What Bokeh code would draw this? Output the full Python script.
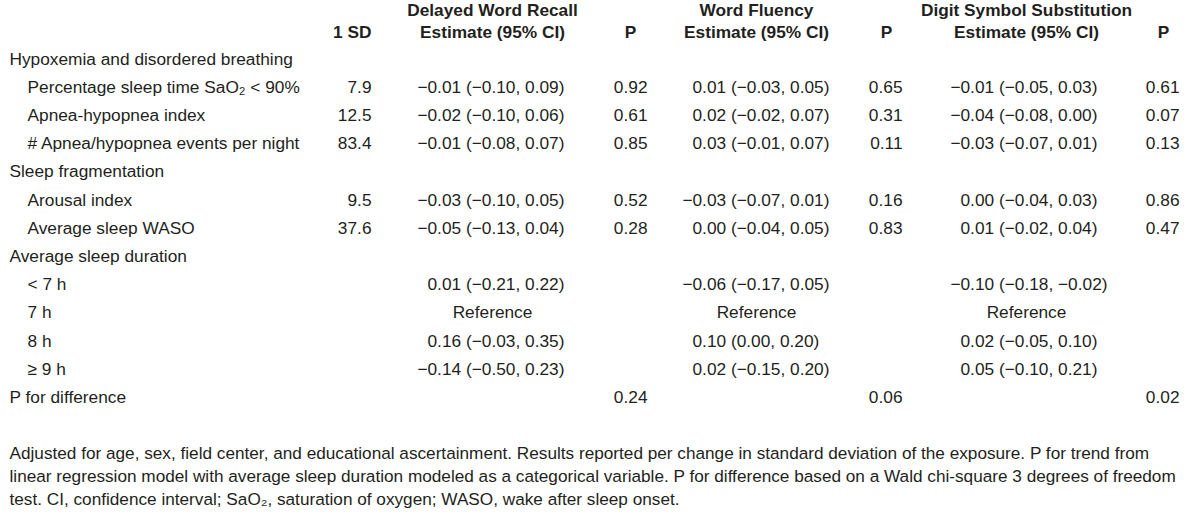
from bokeh.plotting import figure
from bokeh.models import Range1d, ColumnDataSource
from bokeh.core.properties import value
from bokeh.embed import file_html
from bokeh.resources import INLINE

# ---------------- data ----------------
section_headers = ["Hypoxemia and disordered breathing", "Sleep fragmentation",
                   "Average sleep duration", "P for difference"]
row_labels = [
    "Hypoxemia and disordered breathing",
    "Percentage sleep time SaO\u2082 < 90%",
    "Apnea-hypopnea index",
    "# Apnea/hypopnea events per night",
    "Sleep fragmentation",
    "Arousal index",
    "Average sleep WASO",
    "Average sleep duration",
    "< 7 h",
    "7 h",
    "8 h",
    "\u2265 9 h",
    "P for difference",
]
sd_values = ["", "7.9", "12.5", "83.4", "", "9.5", "37.6", "", "", "", "", "", ""]
recall_est = ["", "\u22120.01 (\u22120.10, 0.09)", "\u22120.02 (\u22120.10, 0.06)",
              "\u22120.01 (\u22120.08, 0.07)", "", "\u22120.03 (\u22120.10, 0.05)",
              "\u22120.05 (\u22120.13, 0.04)", "", "0.01 (\u22120.21, 0.22)", "Reference",
              "0.16 (\u22120.03, 0.35)", "\u22120.14 (\u22120.50, 0.23)", ""]
recall_p = ["", "0.92", "0.61", "0.85", "", "0.52", "0.28", "", "", "", "", "", "0.24"]
fluency_est = ["", "0.01 (\u22120.03, 0.05)", "0.02 (\u22120.02, 0.07)",
               "0.03 (\u22120.01, 0.07)", "", "\u22120.03 (\u22120.07, 0.01)",
               "0.00 (\u22120.04, 0.05)", "", "\u22120.06 (\u22120.17, 0.05)", "Reference",
               "0.10 (0.00, 0.20)", "0.02 (\u22120.15, 0.20)", ""]
fluency_p = ["", "0.65", "0.31", "0.11", "", "0.16", "0.83", "", "", "", "", "", "0.06"]
digit_est = ["", "\u22120.01 (\u22120.05, 0.03)", "\u22120.04 (\u22120.08, 0.00)",
             "\u22120.03 (\u22120.07, 0.01)", "", "0.00 (\u22120.04, 0.03)",
             "0.01 (\u22120.02, 0.04)", "", "\u22120.10 (\u22120.18, \u22120.02)", "Reference",
             "0.02 (\u22120.05, 0.10)", "0.05 (\u22120.10, 0.21)", ""]
digit_p = ["", "0.61", "0.07", "0.13", "", "0.86", "0.47", "", "", "", "", "", "0.02"]

header_sd = "1 SD"
header_groups = ["Delayed Word Recall", "Word Fluency", "Digit Symbol Substitution"]
header_est = "Estimate (95% CI)"
header_p = "P"

footnote_lines = [
    "Adjusted for age, sex, field center, and educational ascertainment. Results reported per change in standard deviation of the exposure. P for trend from",
    "linear regression model with average sleep duration modeled as a categorical variable. P for difference based on a Wald chi-square 3 degrees of freedom",
    "test. CI, confidence interval; SaO\u2082, saturation of oxygen; WASO, wake after sleep onset.",
]

# ---------------- layout ----------------
W, H = 1184, 516
OX, OY = 8, 8  # page margin offset (reference coords -> plot coords)
FONT = "Liberation Sans"
FS = "17.3px"
COLOR = "#231f20"

p = figure(width=W, height=H, output_backend="svg", toolbar_location=None,
           x_range=Range1d(0, W), y_range=Range1d(H, 0), min_border=0)
p.axis.visible = False
p.grid.visible = False
p.outline_line_color = None
p.background_fill_color = "white"
p.border_fill_color = "white"


def X(x):
    return x - OX


def Y(y):
    return y - OY


row_y0, row_pitch = 66, 28.2
row_ys = [Y(row_y0 + i * row_pitch) for i in range(len(row_labels))]


def put(xs, ys, texts, align="left", bold=False, size=FS):
    src = ColumnDataSource(dict(x=xs, y=ys, t=texts))
    p.text(x="x", y="y", text="t", source=src, text_align=align,
           text_baseline="middle", text_font=value(FONT), text_font_size=size,
           text_color=COLOR, text_font_style="bold" if bold else "normal")


# headers
hy1, hy2 = Y(17), Y(39)
put([X(379)], [hy2], [header_sd], align="right", bold=True)
group_centers = [500, 764, 1034]
put([X(c) for c in group_centers], [hy1] * 3, header_groups, align="center", bold=True)
put([X(c) for c in group_centers], [hy2] * 3, [header_est] * 3, align="center", bold=True)
p_centers = [638, 894, 1171]
put([X(c) for c in p_centers], [hy2] * 3, [header_p] * 3, align="center", bold=True)

# row labels
lx, ly, lt = [], [], []
for lab, y in zip(row_labels, row_ys):
    lx.append(X(17) if lab in section_headers else X(35))
    ly.append(y)
    lt.append(lab)
put(lx, ly, lt)

# 1 SD column
put([X(379)] * len(row_ys), row_ys, sd_values, align="right")

# estimate columns: decimal aligned (minus sign hangs left), "Reference" centered
digit_x = [435, 700, 968]
for est, dx, cx in zip([recall_est, fluency_est, digit_est], digit_x, group_centers):
    mx, my, mt = [], [], []
    bx, by, bt = [], [], []
    rx, ry, rt = [], [], []
    for s, y in zip(est, row_ys):
        if not s:
            continue
        if s == "Reference":
            rx.append(X(cx)); ry.append(y); rt.append(s)
        elif s.startswith("\u2212"):
            mx.append(X(dx)); my.append(y); mt.append("\u2212")
            bx.append(X(dx)); by.append(y); bt.append(s[1:])
        else:
            bx.append(X(dx)); by.append(y); bt.append(s)
    put(mx, my, mt, align="right")
    put(bx, by, bt, align="left")
    put(rx, ry, rt, align="center")

# P columns
p_right = [655, 910, 1187]
for pv, pr in zip([recall_p, fluency_p, digit_p], p_right):
    put([X(pr)] * len(row_ys), row_ys, pv, align="right")

# footnote
fy = [Y(460), Y(483), Y(506)]
put([X(17)] * 3, fy, footnote_lines, size="17.2px")

open("out.html", "w").write(file_html(p, INLINE))
